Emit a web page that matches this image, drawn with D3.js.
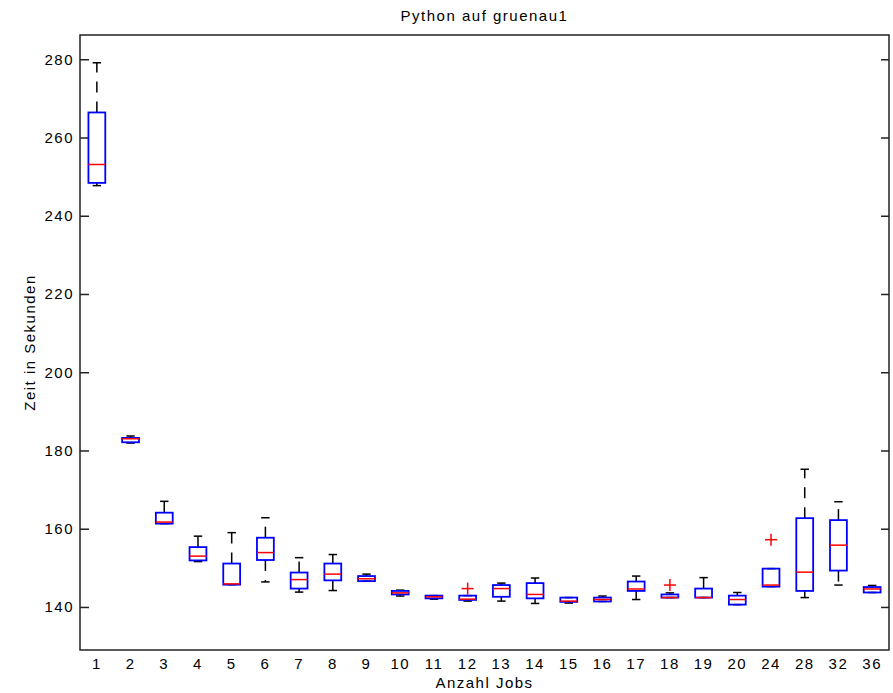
<!DOCTYPE html>
<html>
<head>
<meta charset="utf-8">
<script src="https://cdn.jsdelivr.net/npm/d3@7"></script>
<style>
  body { margin: 0; background: #fff; }
  text { font-family: "Liberation Sans", Arial, sans-serif; font-size: 15px; letter-spacing: 1.5px; fill: #000; }
</style>
</head>
<body>
<div id="chart"></div>
<script>
// Chart data
const jobs = ["1","2","3","4","5","6","7","8","9","10","11","12","13","14","15","16","17","18","19","20","24","28","32","36"];
const whiskerLow  = [247.7,181.9,161.3,151.6,145.7,146.4,143.8,144.2,146.6,142.8,142.0,141.5,141.5,140.9,141.0,141.4,141.9,142.4,142.4,140.6,145.2,142.4,145.6,143.7];
const q1          = [248.4,182.1,161.3,151.9,145.7,152.0,144.7,146.8,146.6,143.2,142.2,141.8,142.6,142.2,141.3,141.4,144.1,142.4,142.4,140.6,145.2,144.1,149.3,143.7];
const medians     = [253.1,183.0,161.7,153.0,145.9,153.9,147.0,148.4,147.2,143.6,142.6,142.0,144.7,143.2,141.5,141.9,144.6,142.4,142.4,141.9,145.6,148.9,155.8,144.6];
const q3          = [266.4,183.2,164.1,155.3,151.1,157.7,148.8,151.1,147.9,144.1,142.9,142.9,145.6,146.1,142.4,142.4,146.5,143.2,144.7,142.9,149.8,162.7,162.2,145.1];
const whiskerHigh = [279.1,183.7,167.0,158.1,159.0,162.8,152.6,153.4,148.4,144.3,142.9,142.9,146.1,147.4,142.4,142.8,147.9,143.6,147.5,143.7,149.8,175.2,166.9,145.5];
const outlierJobs   = ["12","18","24"];
const outlierValues = [144.7,145.6,157.2];
const yTicks = [140,160,180,200,220,240,260,280];

const width = 893, height = 693;
const mLeft = 80, mRight = 889, mTop = 35, mBottom = 650;

const svg = d3.select("#chart").append("svg")
  .attr("width", width)
  .attr("height", height);

const x = d3.scaleBand().domain(jobs).range([mLeft, mRight]).padding(0);
const y = d3.scaleLinear().domain([129, 286.2]).range([mBottom, mTop]);

const bw = x.bandwidth();
const boxW = bw * 0.5, capW = bw * 0.25;
const cx = d => x(d) + bw / 2;

const boxes = jobs.map((j, i) => ({
  j, lo: whiskerLow[i], q1: q1[i], med: medians[i], q3: q3[i], hi: whiskerHigh[i]
}));

// frame
svg.append("rect")
  .attr("x", mLeft).attr("y", mTop)
  .attr("width", mRight - mLeft).attr("height", mBottom - mTop)
  .attr("fill", "none").attr("stroke", "#222").attr("stroke-width", 1.5);

// y axis left + mirrored ticks on right
const yAxis = svg.append("g")
  .attr("transform", `translate(${mLeft},0)`)
  .call(d3.axisLeft(y).tickValues(yTicks).tickSize(-9).tickPadding(6));
yAxis.select(".domain").remove();
yAxis.selectAll("line").attr("stroke", "#222").attr("stroke-width", 1.5);
yAxis.selectAll("text").style("font-size", "15px").attr("fill", "#000");

const yAxisR = svg.append("g")
  .attr("transform", `translate(${mRight},0)`)
  .call(d3.axisRight(y).tickValues(yTicks).tickSize(-8).tickFormat(""));
yAxisR.select(".domain").remove();
yAxisR.selectAll("line").attr("stroke", "#222").attr("stroke-width", 1.5);

// x labels (no tick marks)
const xAxis = svg.append("g")
  .attr("transform", `translate(0,${mBottom})`)
  .call(d3.axisBottom(x).tickSize(0).tickPadding(8));
xAxis.select(".domain").remove();
xAxis.selectAll("text").style("font-size", "15px").attr("fill", "#000");

const g = svg.append("g");

// whiskers (dashed, drawn from box outward)
g.selectAll(".wu").data(boxes).enter().append("line")
  .attr("x1", d => cx(d.j)).attr("x2", d => cx(d.j))
  .attr("y1", d => y(d.q3)).attr("y2", d => y(d.hi))
  .attr("stroke", "#000").attr("stroke-width", 1.5).attr("stroke-dasharray", "11,9");
g.selectAll(".wl").data(boxes).enter().append("line")
  .attr("x1", d => cx(d.j)).attr("x2", d => cx(d.j))
  .attr("y1", d => y(d.q1)).attr("y2", d => y(d.lo))
  .attr("stroke", "#000").attr("stroke-width", 1.5).attr("stroke-dasharray", "11,9");

// caps
["hi", "lo"].forEach(k => {
  g.selectAll(".cap-" + k).data(boxes).enter().append("line")
    .attr("x1", d => cx(d.j) - capW / 2).attr("x2", d => cx(d.j) + capW / 2)
    .attr("y1", d => y(d[k])).attr("y2", d => y(d[k]))
    .attr("stroke", "#000").attr("stroke-width", 1.5);
});

// boxes
g.selectAll(".box").data(boxes).enter().append("rect")
  .attr("x", d => cx(d.j) - boxW / 2)
  .attr("y", d => y(d.q3))
  .attr("width", boxW)
  .attr("height", d => Math.max(0.5, y(d.q1) - y(d.q3)))
  .attr("fill", "none").attr("stroke", "#0000ff").attr("stroke-width", 1.8);

// medians
g.selectAll(".med").data(boxes).enter().append("line")
  .attr("x1", d => cx(d.j) - boxW / 2).attr("x2", d => cx(d.j) + boxW / 2)
  .attr("y1", d => y(d.med)).attr("y2", d => y(d.med))
  .attr("stroke", "#ff0000").attr("stroke-width", 1.5);

// outliers
const outliers = outlierJobs.map((j, i) => ({ j, v: outlierValues[i] }));
const plus = g.selectAll(".out").data(outliers).enter().append("g")
  .attr("transform", d => `translate(${cx(d.j)},${y(d.v)})`);
plus.append("line").attr("x1", -6).attr("x2", 6).attr("y1", 0).attr("y2", 0)
  .attr("stroke", "#ff0000").attr("stroke-width", 1.5);
plus.append("line").attr("x1", 0).attr("x2", 0).attr("y1", -6).attr("y2", 6)
  .attr("stroke", "#ff0000").attr("stroke-width", 1.5);

// title and axis labels
svg.append("text")
  .attr("x", (mLeft + mRight) / 2).attr("y", 21)
  .attr("text-anchor", "middle")
  .text("Python auf gruenau1");

svg.append("text")
  .attr("x", (mLeft + mRight) / 2).attr("y", 688)
  .attr("text-anchor", "middle")
  .text("Anzahl Jobs");

svg.append("text")
  .attr("transform", `translate(35,${(mTop + mBottom) / 2}) rotate(-90)`)
  .attr("text-anchor", "middle")
  .text("Zeit in Sekunden");
</script>
</body>
</html>
